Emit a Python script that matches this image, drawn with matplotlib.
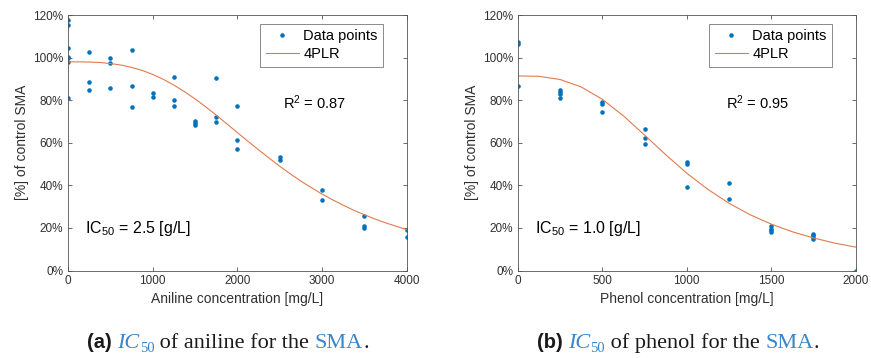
import matplotlib
matplotlib.use('Agg')
import matplotlib.pyplot as plt

plt.rcParams['font.family'] = ['Liberation Sans', 'DejaVu Sans']
plt.rcParams['mathtext.fontset'] = 'custom'
plt.rcParams['mathtext.rm'] = 'Liberation Sans'
plt.rcParams['mathtext.it'] = 'Liberation Sans:italic'

# datos (% del SMA control)
anilina_x = [0, 0, 0, 0, 0, 0, 0,
             250, 250, 250, 500, 500, 500, 750, 750, 750,
             1000, 1000, 1250, 1250, 1250, 1500, 1500, 1500,
             1750, 1750, 1750, 2000, 2000, 2000,
             2500, 2500, 3000, 3000, 3500, 3500, 3500, 4000, 4000]
anilina_y = [117.5, 115.3, 104.5, 100.2, 99.8, 97.9, 80.9,
             102.4, 88.3, 84.6, 99.9, 97.4, 85.5, 103.7, 86.7, 76.6,
             83.4, 81.6, 90.8, 80.1, 77.2, 70.3, 69.3, 68.4,
             90.5, 72.0, 69.8, 77.3, 61.5, 56.9,
             53.3, 51.8, 37.6, 32.9, 25.4, 20.7, 19.9, 18.8, 15.7]

fenol_x = [0, 0, 0, 250, 250, 250, 250, 500, 500, 500, 750, 750, 750,
           1000, 1000, 1000, 1250, 1250, 1500, 1500, 1500, 1500,
           1750, 1750, 1750, 1750, 2000]
fenol_y = [107.2, 106.4, 86.6, 85.0, 83.9, 83.1, 80.8, 79.2, 78.4, 74.5,
           66.4, 62.4, 59.6, 51.0, 49.9, 39.2, 41.3, 33.6,
           20.7, 19.6, 18.8, 17.9, 17.3, 16.5, 15.7, 14.9, 0.0]

# curva 4PLR
curva_anilina_x = list(range(0, 4001, 125))
curva_anilina_y = [98.0, 98.0, 97.9, 97.7, 97.2, 96.5, 95.4, 94.0, 92.1,
                   89.8, 87.1, 84.0, 80.6, 76.9, 73.0, 68.9, 64.8, 60.7,
                   56.7, 52.8, 49.0, 45.4, 42.0, 38.9, 35.9, 33.2, 30.7,
                   28.3, 26.2, 24.2, 22.4, 20.8, 19.2]
curva_fenol_x = list(range(0, 2001, 125))
curva_fenol_y = [91.4, 91.2, 89.7, 86.2, 80.4, 72.6, 63.6, 54.4, 45.7,
                 38.1, 31.6, 26.2, 21.8, 18.2, 15.3, 12.9, 11.0]

azul = '#0072BD'
naranja = '#E07B4F'
gris = '#303030'
azul_link = '#3A86C8'

fig = plt.figure(figsize=(8.71, 3.58), dpi=100)


def panel(pos, x, y, cx, cy, xmax, xticks, xlabel, r2, ic, r2x, icx):
    ax = fig.add_axes(pos)
    ax.plot(x, y, '.', color=azul, markersize=4.5, label='Data points')
    ax.plot(cx, cy, '-', color=naranja, lw=0.8, label='4PLR')
    ax.set_xlim(0, xmax)
    ax.set_ylim(0, 120)
    ax.set_xticks(xticks)
    ax.set_yticks(range(0, 121, 20))
    ax.set_yticklabels([f'{v}%' for v in range(0, 121, 20)])
    ax.tick_params(direction='in', top=True, right=True, labelsize=8.5,
                   colors=gris, length=3, width=0.5)
    for s in ax.spines.values():
        s.set_color('#555555')
        s.set_linewidth(0.6)
    ax.set_xlabel(xlabel, fontsize=10, color=gris, labelpad=3)
    ax.set_ylabel('[%] of control SMA', fontsize=10, color=gris, labelpad=3)
    leg = ax.legend(loc='upper right', bbox_to_anchor=(0.93, 0.965),
                    borderaxespad=0, fancybox=False, numpoints=1,
                    fontsize=10.5, handlelength=2.3, handletextpad=0.3,
                    borderpad=0.35, labelspacing=0.3)
    leg.get_frame().set_edgecolor('#555555')
    leg.get_frame().set_linewidth(0.6)
    ax.text(r2x, 78.6, r2, fontsize=10.5, ha='center', va='center', color='black')
    ax.text(icx, 19.8, ic, fontsize=11.5, ha='left', va='center', color='black')
    return ax


panel([0.0781, 0.2444, 0.3888, 0.7137], anilina_x, anilina_y,
      curva_anilina_x, curva_anilina_y, 4000, [0, 1000, 2000, 3000, 4000],
      'Aniline concentration [mg/L]', r'R$^2$ = 0.87',
      r'IC$_{50}$ = 2.5 [g/L]', 2916, 200)
panel([0.5947, 0.2444, 0.3876, 0.7137], fenol_x, fenol_y,
      curva_fenol_x, curva_fenol_y, 2000, [0, 500, 1000, 1500, 2000],
      'Phenol concentration [mg/L]', r'R$^2$ = 0.95',
      r'IC$_{50}$ = 1.0 [g/L]', 1422, 100)


def leyenda(xc, y, letra, resto):
    # pie de figura armado por trozos
    negro = '#1a1a1a'
    trozos = [(f'({letra})', dict(weight='bold', family='Liberation Sans'), negro, 14.5),
              (' ', dict(family='Liberation Serif'), negro, 16),
              ('IC', dict(style='italic', family='Liberation Serif'), azul_link, 16),
              ('50', dict(family='Liberation Serif'), azul_link, 10.5),
              (f' of {resto} for the ', dict(family='Liberation Serif'), negro, 16),
              ('SMA', dict(family='Liberation Serif'), azul_link, 16),
              ('.', dict(family='Liberation Serif'), negro, 16)]
    r = fig.canvas.get_renderer()
    textos = []
    x = 0
    for t, kw, c, fs in trozos:
        dy = -4 if t == '50' else 0
        tx = fig.text(x, (y + dy) / 358, t, color=c, fontsize=fs, va='baseline', **kw)
        ancho = tx.get_window_extent(r).width
        textos.append((tx, x))
        x += ancho / 871
    inicio = xc / 871 - x / 2
    for tx, x0 in textos:
        tx.set_x(inicio + x0)


leyenda(228, 10, 'a', 'aniline')
leyenda(678, 10, 'b', 'phenol')

fig.savefig('out.png', dpi=100)
